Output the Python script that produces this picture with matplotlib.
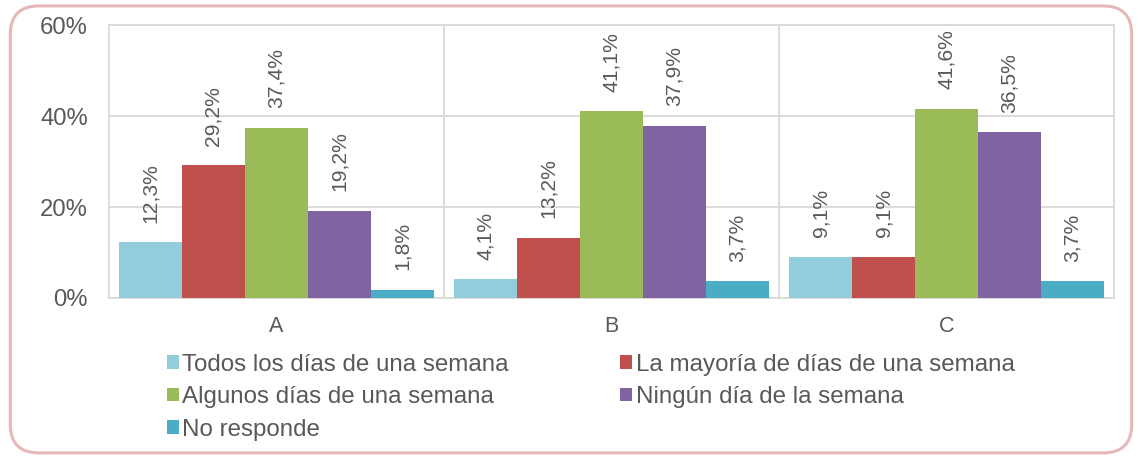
import matplotlib.pyplot as plt
from matplotlib.patches import FancyBboxPatch
import numpy as np

plt.rcParams['font.family'] = ['Liberation Sans', 'DejaVu Sans']

groups = ['A', 'B', 'C']
series = ['Todos los días de una semana', 'La mayoría de días de una semana',
          'Algunos días de una semana', 'Ningún día de la semana', 'No responde']
values = [
    [12.3, 4.1, 9.1],
    [29.2, 13.2, 9.1],
    [37.4, 41.1, 41.6],
    [19.2, 37.9, 36.5],
    [1.8, 3.7, 3.7],
]
colors = ['#92CDDC', '#C0504D', '#9BBB59', '#8064A2', '#4BACC6']
txt = '#595959'
grid = '#D9D9D9'

fig = plt.figure(figsize=(11.42, 4.57), dpi=100)
ax = fig.add_axes([0.0954, 0.348, 0.9755 - 0.0954, 0.945 - 0.348])

# rounded outer border
border = FancyBboxPatch((0.009, 0.009), 0.982, 0.978, boxstyle='round,pad=0,rounding_size=0.025',
                        transform=fig.transFigure, fill=False, edgecolor='#E6B9B8', lw=2.2,
                        mutation_aspect=1142 / 457)
fig.patches.append(border)

x = np.arange(len(groups))
w = 0.188
handles = []
for i, (name, vals, c) in enumerate(zip(series, values, colors)):
    bars = ax.bar(x + (i - 2) * w, vals, w, color=c, label=name, zorder=3)
    handles.append(bars)
    for b, v in zip(bars, vals):
        ax.annotate(f'{v:.1f}%'.replace('.', ','), (b.get_x() + b.get_width() / 2, v),
                    xytext=(0, 14), textcoords='offset points', rotation=90,
                    ha='center', va='bottom', fontsize=15.2, color=txt)

ax.set_xlim(-0.5, 2.5)
ax.set_ylim(0, 60)
ax.set_yticks([0, 20, 40, 60])
ax.set_yticklabels(['0%', '20%', '40%', '60%'])
ax.set_xticks(x)
ax.set_xticklabels(groups)
ax.tick_params(axis='y', length=0, pad=15, labelsize=17.2, colors=txt)
ax.tick_params(axis='x', length=0, pad=13, labelsize=15.5, colors=txt)
ax.yaxis.grid(True, color=grid, lw=1.3, zorder=0)
for sep in [0.5, 1.5]:
    ax.axvline(sep, color=grid, lw=1.3, zorder=0)
for s in ax.spines.values():
    s.set_color(grid)
    s.set_linewidth(1.3)

order = [0, 2, 4, 1, 3]
fig.legend([handles[k] for k in order], [series[k] for k in order],
           loc='upper left', bbox_to_anchor=(0.146, 0.226), ncol=2, frameon=False,
           fontsize=17.4, labelcolor=txt, handlelength=0.5, handleheight=0.5,
           handletextpad=0.15, labelspacing=0.43, columnspacing=4.6,
           borderaxespad=0, borderpad=0)

fig.savefig('out.png', dpi=100)
